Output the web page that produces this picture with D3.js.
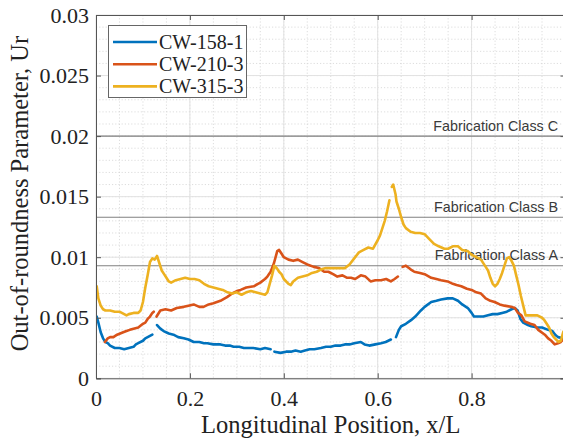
<!DOCTYPE html>
<html><head><meta charset="utf-8">
<script src="https://cdn.jsdelivr.net/npm/d3@7"></script>
<style>body{margin:0;background:#fff}svg{display:block}</style>
</head><body>
<svg id="chart" width="563" height="443"></svg>
<script>
// Out-of-roundness parameter along the cylinder length; null marks a break in the scan.
const seriesNames = ["CW-158-1", "CW-210-3", "CW-315-3"];
const seriesColors = ["#0072BD", "#D95319", "#EDB120"];

const cw158 = [
  [0.0015,0.0051],[0.005,0.0046],[0.01,0.0038],[0.015,0.0033],[0.02,0.0030],[0.025,0.0029],[0.03,0.0027],
  [0.04,0.0025],[0.05,0.0025],[0.06,0.0024],[0.07,0.0025],[0.08,0.0026],[0.085,0.0028],[0.09,0.0029],
  [0.1,0.0031],[0.105,0.0033],[0.11,0.0034],[0.115,0.0035],[0.12,0.0036],
  null,
  [0.13,0.0044],[0.137,0.0041],[0.144,0.0039],[0.155,0.0037],[0.165,0.0036],[0.175,0.0034],[0.187,0.0033],
  [0.197,0.0032],[0.208,0.0030],[0.22,0.0030],[0.23,0.0029],[0.237,0.0029],[0.25,0.0028],[0.265,0.0028],
  [0.275,0.0027],[0.285,0.0027],[0.293,0.0026],[0.305,0.0026],[0.315,0.0025],[0.322,0.0025],[0.335,0.0025],
  [0.35,0.0024],[0.36,0.0025],[0.372,0.0024],
  null,
  [0.38,0.0022],[0.393,0.0021],[0.405,0.0022],[0.415,0.0022],[0.425,0.0023],[0.436,0.0022],[0.445,0.0023],
  [0.455,0.0024],[0.465,0.0024],[0.479,0.0025],[0.49,0.0026],[0.5,0.0026],[0.51,0.0027],[0.521,0.0027],
  [0.53,0.0028],[0.54,0.0028],[0.55,0.0029],[0.564,0.0030],[0.572,0.0028],[0.582,0.0027],[0.595,0.0028],
  [0.607,0.0029],[0.617,0.0030],[0.628,0.0032],
  null,
  [0.639,0.0034],[0.645,0.0040],[0.65,0.0043],[0.66,0.0045],[0.671,0.0048],[0.68,0.0051],[0.692,0.0056],
  [0.70,0.0059],[0.714,0.0063],[0.725,0.0064],[0.735,0.0065],[0.749,0.0066],[0.76,0.0066],[0.771,0.0064],
  [0.78,0.0061],[0.792,0.0058],[0.80,0.0054],[0.805,0.0051],[0.815,0.0051],[0.825,0.0051],[0.835,0.0052],
  [0.845,0.0053],[0.855,0.0053],[0.865,0.0054],[0.875,0.0055],[0.885,0.0057],[0.892,0.0058],[0.898,0.0056],
  [0.904,0.0049],[0.91,0.0046],[0.92,0.0044],[0.927,0.0043],[0.94,0.0042],[0.95,0.0042],[0.963,0.0040],
  [0.972,0.0039],[0.978,0.0036],[0.984,0.0034],[0.995,0.0033],[1.0,0.0033]
];

const cw210 = [
  [0.019,0.0030],[0.025,0.0033],[0.03,0.0034],[0.037,0.0034],[0.045,0.0036],[0.058,0.0038],[0.065,0.0039],
  [0.072,0.0040],[0.08,0.0041],[0.09,0.0042],[0.1,0.0045],[0.105,0.0046],[0.11,0.0049],[0.115,0.0051],
  [0.12,0.0054],[0.123,0.0055],
  null,
  [0.129,0.0051],[0.137,0.0056],[0.148,0.0057],[0.16,0.0056],[0.172,0.0058],[0.187,0.0059],[0.197,0.0060],
  [0.208,0.0061],[0.22,0.0059],[0.229,0.0059],[0.24,0.0061],[0.25,0.0062],[0.265,0.0064],[0.279,0.0067],
  [0.29,0.0070],[0.3,0.0072],[0.308,0.0073],[0.32,0.0075],[0.336,0.0076],[0.345,0.0078],[0.35,0.0079],
  [0.36,0.0082],[0.365,0.0084],[0.372,0.0088],[0.379,0.0095],[0.386,0.0105],
  [0.39,0.0106],[0.395,0.0103],[0.40,0.0100],[0.41,0.0098],[0.42,0.0097],[0.43,0.0098],[0.44,0.0096],
  [0.45,0.0094],[0.464,0.0092],[0.475,0.0091],[0.486,0.0088],[0.495,0.0088],[0.505,0.0086],[0.514,0.0084],
  [0.525,0.0085],[0.535,0.0083],[0.543,0.0083],[0.552,0.0082],[0.564,0.0085],[0.574,0.0084],[0.585,0.0080],
  [0.595,0.0081],[0.607,0.0081],[0.618,0.0082],[0.628,0.0080],[0.636,0.0082],[0.643,0.0084],
  null,
  [0.653,0.0092],[0.66,0.0093],[0.67,0.0090],[0.678,0.0088],[0.69,0.0087],[0.70,0.0086],[0.714,0.0083],
  [0.725,0.0082],[0.735,0.0081],[0.749,0.0080],[0.76,0.0078],[0.768,0.0077],[0.778,0.0076],[0.79,0.0074],
  [0.80,0.0073],[0.81,0.0071],[0.82,0.0070],[0.83,0.0066],[0.84,0.0064],[0.849,0.0063],[0.86,0.0061],
  [0.87,0.0060],[0.885,0.0059],[0.892,0.0058],[0.899,0.0054],[0.906,0.0052],[0.913,0.0047],[0.925,0.0045],
  [0.934,0.0044],[0.942,0.0040],[0.956,0.0036],[0.963,0.0033],[0.97,0.0031],[0.977,0.0028],[0.984,0.0029],
  [0.99,0.0030],[0.995,0.0032],[1.0,0.0032]
];

const cw315 = [
  [0.0015,0.0076],[0.005,0.0066],[0.01,0.0060],[0.015,0.0057],[0.02,0.0056],[0.03,0.0056],[0.04,0.0055],
  [0.05,0.0055],[0.06,0.0053],[0.065,0.0052],[0.07,0.0053],[0.08,0.0054],[0.09,0.0054],[0.095,0.0056],
  [0.1,0.0063],[0.105,0.0075],[0.11,0.0085],[0.115,0.0096],[0.12,0.0099],[0.125,0.0098],[0.13,0.0101],
  [0.135,0.0095],[0.14,0.0089],[0.145,0.0086],[0.15,0.0083],[0.155,0.0080],[0.16,0.0079],[0.17,0.0081],
  [0.18,0.0082],[0.19,0.0083],[0.2,0.0082],[0.21,0.0082],[0.22,0.0081],[0.23,0.0078],[0.24,0.0076],
  [0.25,0.0075],[0.26,0.0074],[0.27,0.0073],[0.28,0.0071],[0.29,0.0070],[0.3,0.0071],[0.31,0.0069],
  [0.32,0.0071],[0.33,0.0072],[0.34,0.0071],[0.35,0.0070],[0.36,0.0069],[0.365,0.0071],[0.37,0.0078],
  [0.375,0.0085],[0.38,0.0093],[0.385,0.0091],[0.39,0.0088],[0.395,0.0086],[0.4,0.0082],[0.41,0.0078],
  [0.415,0.0077],[0.42,0.0080],[0.43,0.0083],[0.44,0.0084],[0.45,0.0085],[0.46,0.0087],[0.47,0.0088],
  [0.48,0.0090],[0.49,0.0091],[0.5,0.0091],[0.51,0.0091],[0.52,0.0091],[0.53,0.0091],[0.54,0.0094],
  [0.55,0.0099],[0.56,0.0104],[0.57,0.0106],[0.58,0.0108],[0.59,0.0107],[0.6,0.0114],[0.605,0.0118],
  [0.61,0.0124],[0.615,0.0130],[0.62,0.0138],[0.625,0.0147],
  null,
  [0.63,0.0158],[0.633,0.0160],[0.638,0.0152],[0.64,0.0146],[0.645,0.0140],[0.65,0.0133],[0.655,0.0127],
  [0.66,0.0124],[0.67,0.0121],[0.68,0.0120],[0.69,0.0120],[0.7,0.0119],[0.71,0.0115],[0.72,0.0111],
  [0.73,0.0109],[0.742,0.0107],[0.75,0.0107],[0.76,0.0109],[0.771,0.0109],[0.78,0.0106],[0.792,0.0105],
  [0.80,0.0102],[0.81,0.0100],[0.82,0.0098],[0.83,0.0092],[0.835,0.0089],[0.84,0.0083],[0.845,0.0078],
  [0.85,0.0076],[0.855,0.0078],[0.86,0.0082],[0.865,0.0087],[0.87,0.0093],[0.875,0.0099],[0.88,0.0100],
  [0.885,0.0097],[0.89,0.0093],[0.895,0.0085],[0.9,0.0077],[0.905,0.0068],[0.91,0.0060],[0.915,0.0052],
  [0.92,0.0052],[0.93,0.0052],[0.94,0.0052],[0.95,0.0050],[0.955,0.0048],[0.96,0.0045],[0.965,0.0042],
  [0.97,0.0037],[0.975,0.0034],[0.98,0.0032],[0.985,0.0030],[0.99,0.0031],[0.995,0.0038],[1.0,0.0041]
];

const xTicks = [0, 0.2, 0.4, 0.6, 0.8];
const xTickLabels = ["0", "0.2", "0.4", "0.6", "0.8"];
const yTicks = [0, 0.005, 0.01, 0.015, 0.02, 0.025, 0.03];
const yTickLabels = ["0", "0.005", "0.01", "0.015", "0.02", "0.025", "0.03"];
const classLevels = [0.02, 0.0133, 0.0093];
const classLabels = ["Fabrication Class C", "Fabrication Class B", "Fabrication Class A"];
const xTitle = "Longitudinal Position, x/L";
const yTitle = "Out-of-roundness Parameter, Ur";

const series = [cw158, cw210, cw315];

const svg = d3.select("#chart");
const box = { left: 96, right: 565.5, top: 15, bottom: 378.3 };
const x = d3.scaleLinear().domain([0, 1]).range([box.left, box.right]);
const y = d3.scaleLinear().domain([0, 0.03]).range([box.bottom, box.top]);
const serif = "'Liberation Serif','Times New Roman',serif";

svg.append("defs").append("clipPath").attr("id", "plotClip")
  .append("rect").attr("x", box.left).attr("y", box.top)
  .attr("width", box.right - box.left).attr("height", box.bottom - box.top);

// minor grid (dotted)
const g = svg.append("g");
g.selectAll("line.mx").data(d3.range(0.05, 1, 0.05)).join("line")
  .attr("x1", d => x(d)).attr("x2", d => x(d)).attr("y1", box.top).attr("y2", box.bottom)
  .attr("stroke", "#d4d4d4").attr("stroke-width", 0.8).attr("stroke-dasharray", "1.2,2");
g.selectAll("line.my").data(d3.range(0.001, 0.03, 0.001)).join("line")
  .attr("x1", box.left).attr("x2", box.right).attr("y1", d => y(d)).attr("y2", d => y(d))
  .attr("stroke", "#d4d4d4").attr("stroke-width", 0.8).attr("stroke-dasharray", "1.2,2");
// major grid
g.selectAll("line.gx").data(xTicks.concat([1])).join("line")
  .attr("x1", d => x(d)).attr("x2", d => x(d)).attr("y1", box.top).attr("y2", box.bottom)
  .attr("stroke", "#e2e2e2").attr("stroke-width", 1);
g.selectAll("line.gy").data(yTicks).join("line")
  .attr("x1", box.left).attr("x2", box.right).attr("y1", d => y(d)).attr("y2", d => y(d))
  .attr("stroke", "#e2e2e2").attr("stroke-width", 1);

// fabrication class limits
const cls = svg.append("g");
cls.selectAll("line").data(classLevels).join("line")
  .attr("x1", box.left).attr("x2", box.right).attr("y1", d => y(d)).attr("y2", d => y(d))
  .attr("stroke", "#808080").attr("stroke-width", 1.1);
cls.selectAll("text").data(classLevels).join("text")
  .attr("x", 558).attr("y", d => y(d) - 5.5).attr("text-anchor", "end")
  .attr("font-family", "'Liberation Sans',Arial,sans-serif").attr("font-size", 14.3)
  .attr("fill", "#3a3a3a").text((d, i) => classLabels[i]);

// data lines
const line = d3.line().defined(d => d !== null).x(d => x(d[0])).y(d => y(d[1]));
svg.append("g").attr("clip-path", "url(#plotClip)")
  .selectAll("path").data(series).join("path")
  .attr("d", line).attr("fill", "none")
  .attr("stroke", (d, i) => seriesColors[i]).attr("stroke-width", 2.6)
  .attr("stroke-linejoin", "round").attr("stroke-linecap", "round");

// axes
const axisColor = "#555";
svg.append("g").attr("transform", `translate(${box.left},0)`)
  .call(d3.axisLeft(y).tickValues(yTicks).tickFormat((d, i) => yTickLabels[i]).tickSize(-5).tickPadding(7));
svg.append("g").attr("transform", `translate(0,${box.bottom})`)
  .call(d3.axisBottom(x).tickValues(xTicks).tickFormat((d, i) => xTickLabels[i]).tickSize(-5).tickPadding(12));
svg.append("g").attr("transform", `translate(${box.right},0)`)
  .call(d3.axisRight(y).tickValues(yTicks).tickFormat("").tickSize(-5));
svg.append("g").attr("transform", `translate(0,${box.top})`)
  .call(d3.axisTop(x).tickValues(xTicks).tickFormat("").tickSize(-5));
svg.selectAll(".domain").attr("stroke", axisColor).attr("stroke-width", 1);
svg.selectAll(".tick line").attr("stroke", axisColor);
svg.selectAll(".tick text").attr("font-family", serif).attr("font-size", 22).attr("fill", "#222");

// axis titles
svg.append("text").attr("x", (box.left + box.right) / 2).attr("y", 433).attr("text-anchor", "middle")
  .attr("font-family", serif).attr("font-size", 24.5).attr("fill", "#222").text(xTitle);
svg.append("text").attr("transform", `translate(28,${(box.top + box.bottom) / 2 - 3}) rotate(-90)`)
  .attr("text-anchor", "middle").attr("font-family", serif).attr("font-size", 24.5)
  .attr("fill", "#222").text(yTitle);

// legend
const lg = svg.append("g");
lg.append("rect").attr("x", 108.5).attr("y", 25.5).attr("width", 138).attr("height", 72)
  .attr("fill", "#fff").attr("stroke", "#666").attr("stroke-width", 1);
const rows = lg.selectAll("g.row").data(seriesNames).join("g")
  .attr("transform", (d, i) => `translate(0,${42 + i * 22.2})`);
rows.append("line").attr("x1", 113).attr("x2", 157).attr("y1", 0).attr("y2", 0)
  .attr("stroke", (d, i) => seriesColors[i]).attr("stroke-width", 2.6);
rows.append("text").attr("x", 159).attr("y", 0).attr("dy", "0.34em")
  .attr("font-family", serif).attr("font-size", 20).attr("fill", "#222").text(d => d);
</script>
</body></html>
